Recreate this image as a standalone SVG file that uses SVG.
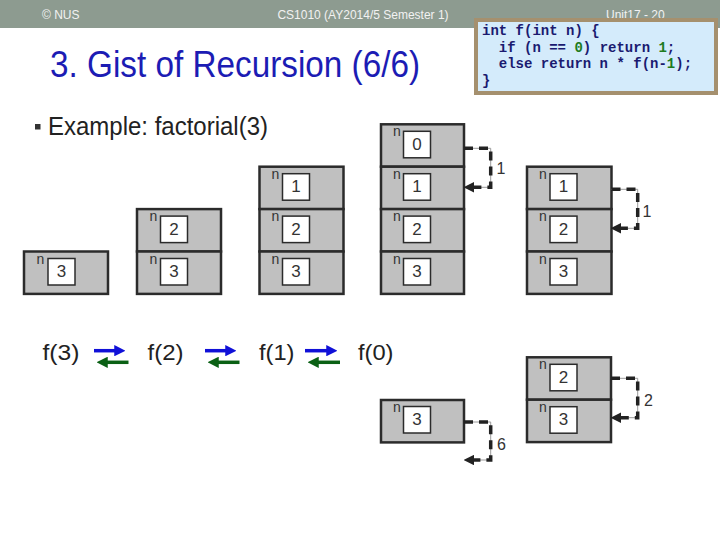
<svg xmlns="http://www.w3.org/2000/svg" width="720" height="540" viewBox="0 0 720 540">
<style>
.hdr{font-family:"Liberation Sans",Arial,sans-serif;font-size:12px;fill:#f2f2f2}
.title{font-family:"Liberation Sans",Arial,sans-serif;font-size:36px;fill:#1c1cb4}
.body{font-family:"Liberation Sans",Arial,sans-serif;font-size:25px;fill:#222}
.code{font-family:"Liberation Mono","Courier New",monospace;font-size:14px;font-weight:bold;fill:#1a1a70;white-space:pre}
.num0{fill:#1e7b1e}
.fr{fill:#c0c0c0;stroke:#2b2b2b;stroke-width:2.5}
.in{fill:#fff;stroke:#2b2b2b;stroke-width:1.5}
.n{font-family:"Liberation Sans",Arial,sans-serif;font-size:14px;fill:#333}
.v{font-family:"Liberation Sans",Arial,sans-serif;font-size:17px;fill:#333;text-anchor:middle}
.fl{font-family:"Liberation Sans",Arial,sans-serif;font-size:22px;fill:#222}
.rl{font-family:"Liberation Sans",Arial,sans-serif;font-size:16px;fill:#333}
.thin{fill:none;stroke:#9a9a9a;stroke-width:1}
.dash{fill:none;stroke:#222;stroke-width:3.5;stroke-dasharray:9 6}
.blue{stroke:#1010d8;stroke-width:3.5;fill:none}
.green{stroke:#0a6014;stroke-width:3.5;fill:none}
</style>
<defs>
<marker id="ah" viewBox="0 0 10 10" refX="2" refY="5" markerWidth="3" markerHeight="3" orient="auto-start-reverse">
<path d="M0,0 L10,5 L0,10 z" fill="#222"/>
</marker>
<marker id="ab" viewBox="0 0 10 10" refX="6" refY="5" markerWidth="3.2" markerHeight="3.2" orient="auto">
<path d="M0,0 L10,5 L0,10 z" fill="#1010d8"/>
</marker>
<marker id="ag" viewBox="0 0 10 10" refX="6" refY="5" markerWidth="3.2" markerHeight="3.2" orient="auto">
<path d="M0,0 L10,5 L0,10 z" fill="#0a6014"/>
</marker>
</defs>
<rect width="720" height="540" fill="#fff"/>
<g id="header">
<rect x="0" y="0" width="720" height="28" fill="#8d9b90"/>
<text class="hdr" x="42" y="19">© NUS</text>
<text class="hdr" x="363" y="19" text-anchor="middle">CS1010 (AY2014/5 Semester 1)</text>
<text class="hdr" x="606" y="19">Unit17 - 20</text>
</g>
<text class="title" x="50" y="77" textLength="370" lengthAdjust="spacingAndGlyphs">3. Gist of Recursion (6/6)</text>
<rect x="35" y="124" width="5.5" height="5.5" fill="#333"/>
<text class="body" x="48" y="135" textLength="220" lengthAdjust="spacingAndGlyphs">Example: factorial(3)</text>
<g id="codebox">
<rect x="476" y="20" width="240" height="73" fill="#d4ebfb" stroke="#a5906e" stroke-width="4"/>
<text class="code" x="482" y="35">int f(int n) {</text>
<text class="code" x="482" y="51.7">  if (n == <tspan class="num0">0</tspan>) return <tspan class="num0">1</tspan>;</text>
<text class="code" x="482" y="68.3">  else return n * f(n-<tspan class="num0">1</tspan>);</text>
<text class="code" x="482" y="85">}</text>
</g>
<!-- stack A -->
<g id="a3"><rect class="fr" x="24" y="251.5" width="84" height="42.4"/><rect class="in" x="48" y="258.5" width="27" height="26.5"/><text class="n" x="36.5" y="263.5">n</text><text class="v" x="61.5" y="277">3</text></g>
<!-- stack B -->
<g id="b2"><rect class="fr" x="137" y="209.1" width="84" height="42.4"/><rect class="in" x="160.5" y="216.1" width="27" height="26.5"/><text class="n" x="149.5" y="221">n</text><text class="v" x="174" y="234.6">2</text></g>
<g id="b3"><rect class="fr" x="137" y="251.5" width="84" height="42.4"/><rect class="in" x="160.5" y="258.5" width="27" height="26.5"/><text class="n" x="149.5" y="263.5">n</text><text class="v" x="174" y="277">3</text></g>
<!-- stack C -->
<g id="c1"><rect class="fr" x="259.5" y="166.7" width="84" height="42.4"/><rect class="in" x="282.5" y="173.7" width="27" height="26.5"/><text class="n" x="271.5" y="178.7">n</text><text class="v" x="296" y="192.2">1</text></g>
<g id="c2"><rect class="fr" x="259.5" y="209.1" width="84" height="42.4"/><rect class="in" x="282.5" y="216.1" width="27" height="26.5"/><text class="n" x="271.5" y="221">n</text><text class="v" x="296" y="234.6">2</text></g>
<g id="c3"><rect class="fr" x="259.5" y="251.5" width="84" height="42.4"/><rect class="in" x="282.5" y="258.5" width="27" height="26.5"/><text class="n" x="271.5" y="263.5">n</text><text class="v" x="296" y="277">3</text></g>
<!-- stack D -->
<g id="d0"><rect class="fr" x="381" y="124.3" width="83" height="42.4"/><rect class="in" x="403.5" y="131.3" width="27" height="26.5"/><text class="n" x="393" y="136.3">n</text><text class="v" x="417" y="149.8">0</text></g>
<g id="d1"><rect class="fr" x="381" y="166.7" width="83" height="42.4"/><rect class="in" x="403.5" y="173.7" width="27" height="26.5"/><text class="n" x="393" y="178.7">n</text><text class="v" x="417" y="192.2">1</text></g>
<g id="d2"><rect class="fr" x="381" y="209.1" width="83" height="42.4"/><rect class="in" x="403.5" y="216.1" width="27" height="26.5"/><text class="n" x="393" y="221">n</text><text class="v" x="417" y="234.6">2</text></g>
<g id="d3"><rect class="fr" x="381" y="251.5" width="83" height="42.4"/><rect class="in" x="403.5" y="258.5" width="27" height="26.5"/><text class="n" x="393" y="263.5">n</text><text class="v" x="417" y="277">3</text></g>
<!-- stack E -->
<g id="e1"><rect class="fr" x="527" y="166.7" width="84.5" height="42.4"/><rect class="in" x="550" y="173.7" width="27" height="26.5"/><text class="n" x="539" y="178.7">n</text><text class="v" x="563.5" y="192.2">1</text></g>
<g id="e2"><rect class="fr" x="527" y="209.1" width="84.5" height="42.4"/><rect class="in" x="550" y="216.1" width="27" height="26.5"/><text class="n" x="539" y="221">n</text><text class="v" x="563.5" y="234.6">2</text></g>
<g id="e3"><rect class="fr" x="527" y="251.5" width="84.5" height="42.4"/><rect class="in" x="550" y="258.5" width="27" height="26.5"/><text class="n" x="539" y="263.5">n</text><text class="v" x="563.5" y="277">3</text></g>
<!-- stack F -->
<g id="f2"><rect class="fr" x="527" y="357.3" width="84" height="42.4"/><rect class="in" x="550" y="364.3" width="27" height="26.5"/><text class="n" x="539" y="369.3">n</text><text class="v" x="563.5" y="382.8">2</text></g>
<g id="f3"><rect class="fr" x="527" y="399.7" width="84" height="42.4"/><rect class="in" x="550" y="406.7" width="27" height="26.5"/><text class="n" x="539" y="411.7">n</text><text class="v" x="563.5" y="425.2">3</text></g>
<!-- stack G -->
<g id="g3"><rect class="fr" x="381" y="400" width="83" height="42.4"/><rect class="in" x="403.5" y="406.5" width="27" height="26.5"/><text class="n" x="393" y="411.5">n</text><text class="v" x="417" y="425">3</text></g>
<!-- call labels -->
<g id="calls">
<text class="fl" x="42.5" y="360" textLength="37" lengthAdjust="spacingAndGlyphs">f(3)</text>
<text class="fl" x="147.5" y="360" textLength="36" lengthAdjust="spacingAndGlyphs">f(2)</text>
<text class="fl" x="259" y="360" textLength="35.5" lengthAdjust="spacingAndGlyphs">f(1)</text>
<text class="fl" x="358" y="360" textLength="35.5" lengthAdjust="spacingAndGlyphs">f(0)</text>
</g>
<g id="connectors">
<line class="blue" x1="94" y1="350.7" x2="121" y2="350.7" marker-end="url(#ab)"/>
<line class="green" x1="128.5" y1="362.3" x2="101" y2="362.3" marker-end="url(#ag)"/>
<line class="blue" x1="205" y1="350.7" x2="232" y2="350.7" marker-end="url(#ab)"/>
<line class="green" x1="239.5" y1="362.3" x2="212" y2="362.3" marker-end="url(#ag)"/>
<line class="blue" x1="305" y1="350.7" x2="333" y2="350.7" marker-end="url(#ab)"/>
<line class="green" x1="340" y1="362.3" x2="312" y2="362.3" marker-end="url(#ag)"/>

<path class="thin" d="M464,148.3 H490.7 V187.3 H468"/>
<path class="dash" d="M464,148.3 H490.7 V187.3 H472" marker-end="url(#ah)"/>
<path class="thin" d="M611.5,189.3 H637.7 V228.3 H615"/>
<path class="dash" d="M611.5,189.3 H637.7 V228.3 H619" marker-end="url(#ah)"/>
<path class="thin" d="M464,422 H490.7 V460 H468"/>
<path class="dash" d="M464,422 H490.7 V460 H472" marker-end="url(#ah)"/>
<path class="thin" d="M611,378.3 H637.7 V417.7 H615"/>
<path class="dash" d="M611,378.3 H637.7 V417.7 H619" marker-end="url(#ah)"/>
<text class="rl" x="496.5" y="174">1</text>
<text class="rl" x="642.5" y="217">1</text>
<text class="rl" x="497" y="450">6</text>
<text class="rl" x="644" y="406">2</text>
</g>
</svg>
